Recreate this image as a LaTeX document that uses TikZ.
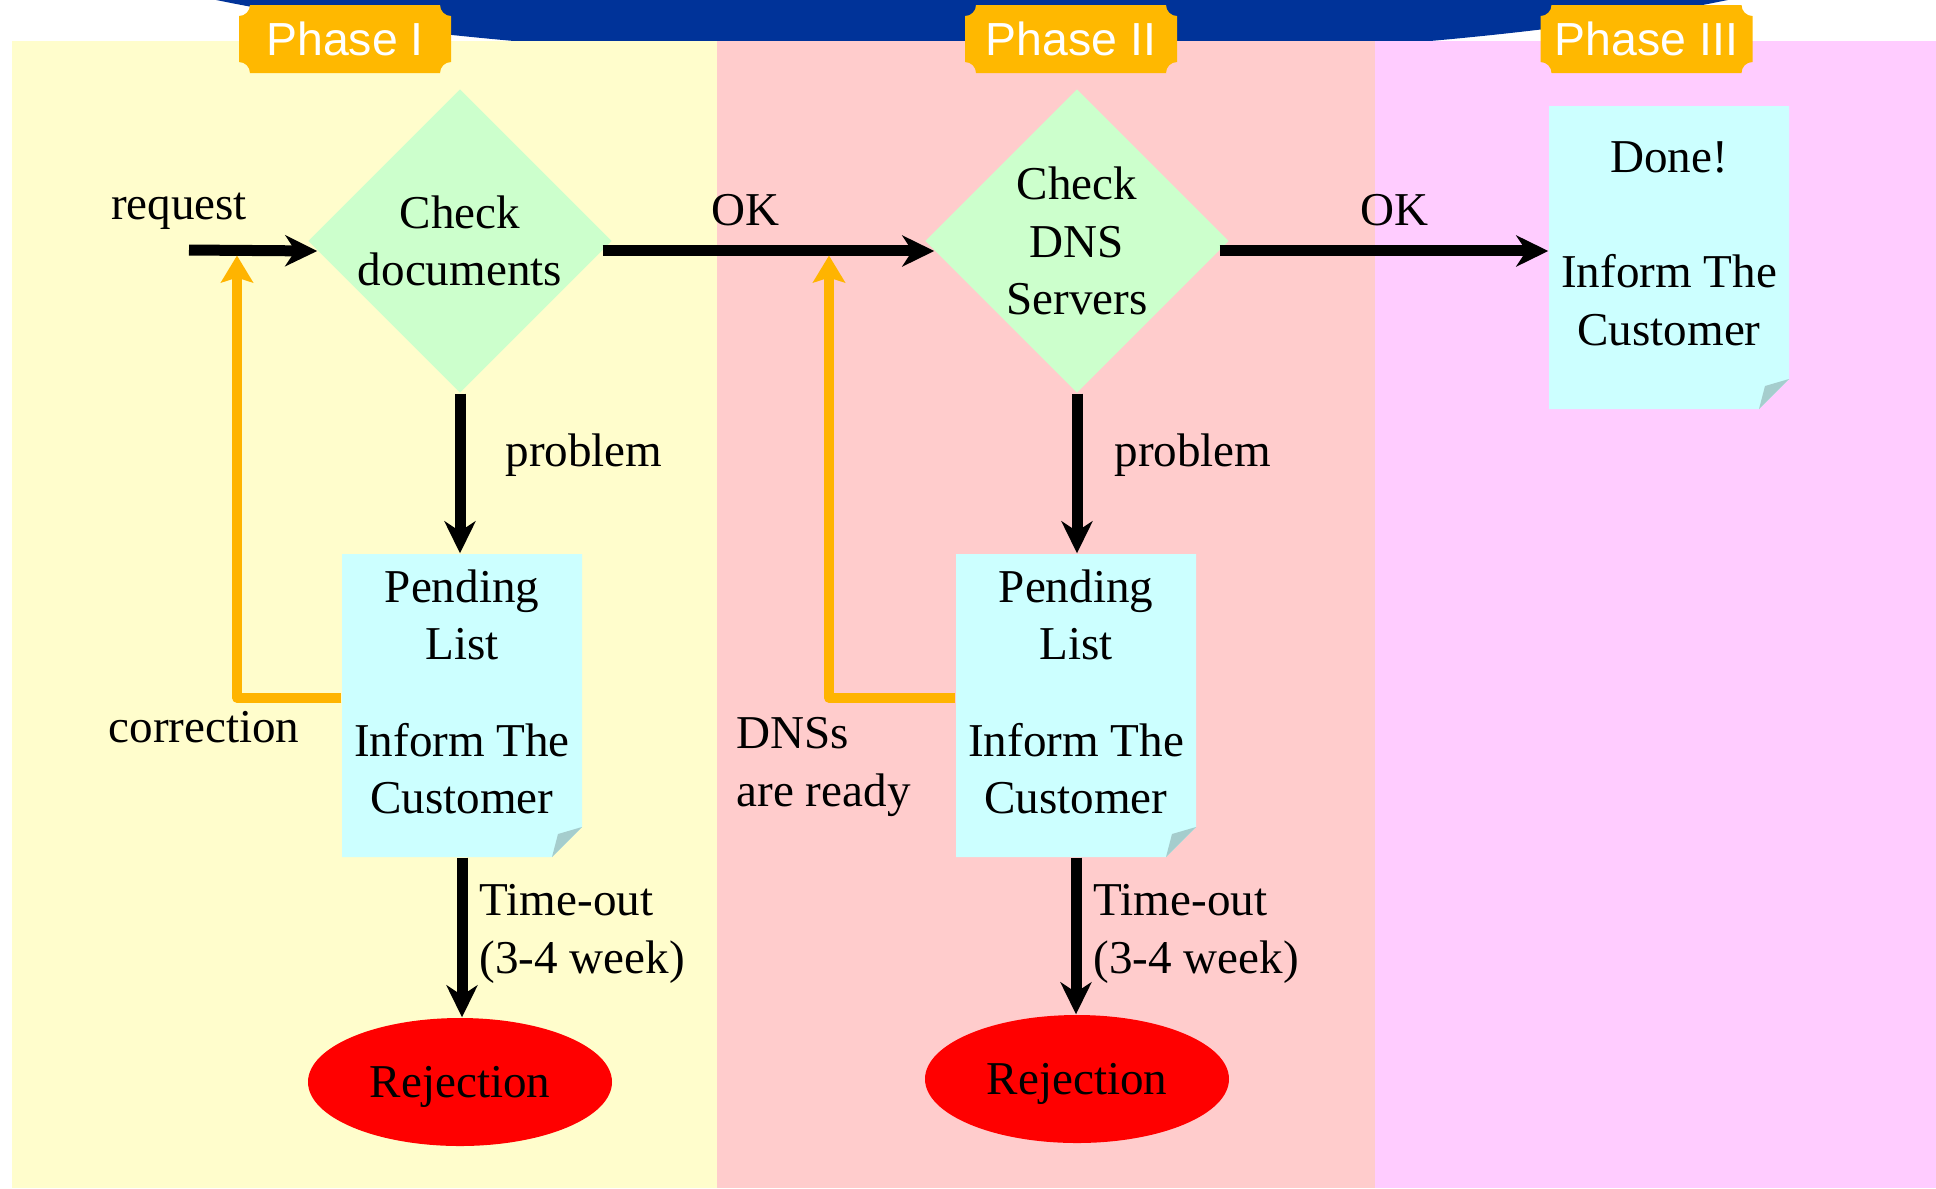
\documentclass[tikz,border=0pt]{standalone}
\usepackage{fontspec}
\setmainfont{Liberation Serif}
\newfontfamily\tabfont{Liberation Sans}
\usetikzlibrary{shapes.geometric,arrows.meta}
\definecolor{laneA}{HTML}{FFFDCC}
\definecolor{laneB}{HTML}{FFCCCC}
\definecolor{laneC}{HTML}{FFCCFF}
\definecolor{topblue}{HTML}{003399}
\definecolor{tabfill}{HTML}{FFB800}
\definecolor{notefill}{HTML}{CCFFFF}
\definecolor{foldfill}{HTML}{A5CDCD}
\definecolor{checkfill}{HTML}{CCFFCC}
\definecolor{backline}{HTML}{FFB400}

\begin{document}
\begin{tikzpicture}[every node/.style={font=\fontsize{13.4}{16.3}\selectfont},
    tab/.style={minimum width=2.12cm, minimum height=0.68cm, inner sep=0pt, text=white,
      font=\tabfont\fontsize{13.2}{16}\selectfont,
      path picture={\fill[tabfill] ([xshift=0.11cm]path picture bounding box.north west)
        -- ([xshift=-0.11cm]path picture bounding box.north east) arc[start angle=180, end angle=270, radius=0.11cm]
        -- ([yshift=0.11cm]path picture bounding box.south east) arc[start angle=90, end angle=180, radius=0.11cm]
        -- ([xshift=0.11cm]path picture bounding box.south west) arc[start angle=0, end angle=90, radius=0.11cm]
        -- ([yshift=-0.11cm]path picture bounding box.north west) arc[start angle=270, end angle=360, radius=0.11cm]
        -- cycle;}},
    note/.style={minimum width=2.4cm, minimum height=3.03cm, inner sep=0pt, align=center, text depth=0.28cm,
      path picture={\fill[notefill] (path picture bounding box.north west) -- (path picture bounding box.north east)
        -- ([yshift=0.3cm]path picture bounding box.south east) -- ([xshift=-0.3cm]path picture bounding box.south east)
        -- (path picture bounding box.south west) -- cycle;
        \fill[foldfill] ([yshift=0.3cm]path picture bounding box.south east)
        -- ([xshift=-0.24cm,yshift=0.23cm]path picture bounding box.south east)
        -- ([xshift=-0.3cm]path picture bounding box.south east) -- cycle;}},
    check/.style={diamond, aspect=1, minimum size=3.04cm, inner sep=0pt, fill=checkfill, align=center},
    reject/.style={ellipse, minimum width=3.04cm, minimum height=1.28cm, inner sep=0pt, fill=red, text depth=0pt},
    flow/.style={line width=0.11cm, -{Stealth[length=0.32cm, width=0.31cm, inset=0.1cm]}},
    retry/.style={line width=0.095cm, color=backline, line join=round, -{Stealth[length=0.27cm, width=0.32cm, inset=0.05cm]}}]
    \useasboundingbox (0,0) rectangle (19.36,-11.88);
    \begin{scope}
        \clip (0,0) rectangle (19.36,-11.88);
        \fill[topblue] (9.72,1.00) ellipse [x radius=9.68, y radius=1.60];
    \end{scope}
    \fill[laneA] (0.12,-0.41) rectangle (7.17,-11.88);
    \fill[laneB] (7.17,-0.41) rectangle (13.75,-11.88);
    \fill[laneC] (13.75,-0.41) rectangle (19.36,-11.88);
    \node[tab] (ph1) at (3.45,-0.39) {Phase I};
    \node[tab] (ph2) at (10.71,-0.39) {Phase II};
    \node[tab] (ph3) at (16.465,-0.39) {Phase III};

    \node[check] (chk1) at (4.60,-2.41) {Check\\documents};
    \node[check] (chk2) at (10.77,-2.41) {Check\\DNS\\Servers};
    \node[note] (pend1) at (4.62,-7.055) {Pending\\List\\[0.39cm]Inform The\\Customer};
    \node[note] (pend2) at (10.76,-7.055) {Pending\\List\\[0.39cm]Inform The\\Customer};
    \node[note] (done) at (16.69,-2.575) {Done!\\[0.58cm]Inform The\\Customer};
    \node[reject] (rej1) at (4.60,-10.82) {Rejection};
    \node[reject] (rej2) at (10.77,-10.79) {Rejection};
    \coordinate (req) at (1.89,-2.50);
    \coordinate (back1) at (2.37,-2.555);
    \coordinate (back2) at (8.29,-2.555);

    \draw[flow] (req) -- (chk1.184);
    \draw[flow] (chk1.-4) -- (chk2.184);
    \draw[flow] (chk2.-4) -- (chk2.-4 -| done.west);
    \draw[flow] (chk1.south) -- (chk1.south |- pend1.north);
    \draw[flow] (chk2.south) -- (chk2.south |- pend2.north);
    \draw[flow] (pend1.south) -- (pend1.south |- rej1.north);
    \draw[flow] (pend2.south) -- (pend2.south |- rej2.north);
    \draw[retry] ([yshift=0.075cm]pend1.west) -| (back1);
    \draw[retry] ([yshift=0.075cm]pend2.west) -| (back2);

    \node (reqlbl) at (1.79,-2.11) {request};
    \node (ok1) at (7.46,-2.10) {OK};
    \node (ok2) at (13.94,-2.10) {OK};
    \node (prob1) at (5.84,-4.55) {problem};
    \node (prob2) at (11.93,-4.55) {problem};
    \node (corr) at (2.04,-7.27) {correction};
    \node[anchor=west, align=left, inner sep=0pt] (ready) at (7.36,-7.67) {DNSs\\are ready};
    \node[anchor=west, align=left, inner sep=0pt] (wait1) at (4.79,-9.34) {Time-out\\(3-4 week)};
    \node[anchor=west, align=left, inner sep=0pt] (wait2) at (10.93,-9.34) {Time-out\\(3-4 week)};
\end{tikzpicture}
\end{document}
